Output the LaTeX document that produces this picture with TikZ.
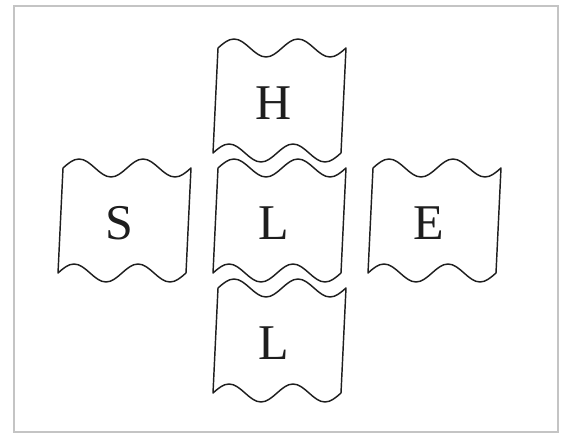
\documentclass[tikz,border=0pt]{standalone}
\usepackage{fontspec}
\setmainfont{Liberation Serif}
\usetikzlibrary{positioning}
\definecolor{FrameGray}{RGB}{196,196,196}
\definecolor{InkGray}{RGB}{30,30,30}
\tikzset{
  cardline/.style={draw=InkGray,fill=white,line width=1.45pt,line join=round},
  letter/.style={font=\fontsize{50}{50}\selectfont,text=InkGray,inner sep=0pt},
  frame/.style={draw=FrameGray,line width=1.8pt},
  wavecard/.pic={
    \draw[cardline] (0,0) sin (16,-9) cos (32,0) sin (48,9) cos (64,0)
      sin (80,-9) cos (96,0) sin (112,9) cos (128,0) -- (123,105)
      sin (107,114) cos (91,105) sin (75,96) cos (59,105)
      sin (43,114) cos (27,105) sin (11,96) cos (-5,105) -- cycle;
    \node[letter] (-txt) at (56,55) {#1};
  }
}

\begin{document}
\begin{tikzpicture}[x=1pt,y=-1pt]
  \useasboundingbox (0,0) rectangle (568,435);
  \draw[frame] (14,6) rectangle (558,432);
  % middle column
  \pic (h) at (218,48) {wavecard=H};
  \pic (lm) at (218,168) {wavecard=L};
  \pic (lb) at (218,288) {wavecard=L};
  % left and right
  \pic (s) at (63,168) {wavecard=S};
  \pic (e) at (373,168) {wavecard=E};
\end{tikzpicture}
\end{document}
